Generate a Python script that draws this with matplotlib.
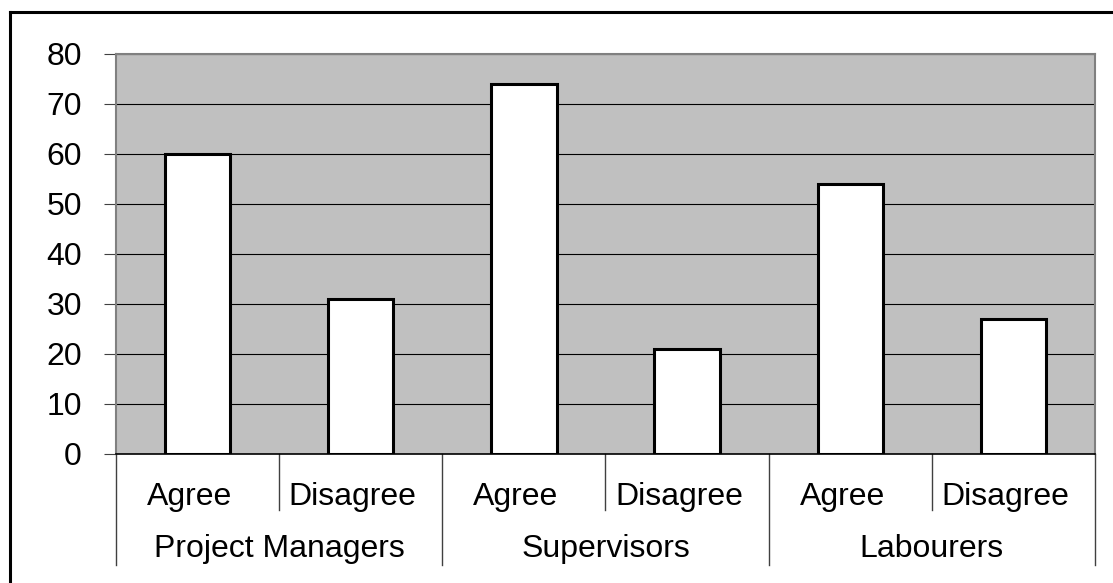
import matplotlib
matplotlib.use("Agg")
import matplotlib.pyplot as plt
from matplotlib.lines import Line2D
from matplotlib.transforms import offset_copy

# data
groups = ["Project Managers", "Supervisors", "Labourers"]
answers = ["Agree", "Disagree"]
values = [60, 31, 74, 21, 54, 27]
y_ticks = [0, 10, 20, 30, 40, 50, 60, 70, 80]

plt.rcParams['font.family'] = ['Liberation Sans', 'DejaVu Sans']
font_size = 23

fig = plt.figure(figsize=(11.13, 5.83), dpi=100)
ax = fig.add_axes([0.1042, 0.2213, 0.8796, 0.6861])
ax.set_facecolor('#c0c0c0')

n = len(values)
xs = list(range(n))
ax.bar(xs, values, width=0.4, color='white', edgecolor='black', linewidth=2.2, zorder=3)

ax.set_xlim(-0.5, n - 0.5)
ax.set_ylim(0, 80)
ax.set_yticks(y_ticks)
ax.set_yticklabels([str(v) for v in y_ticks], fontsize=font_size)
ax.yaxis.grid(True, color='black', linewidth=0.8)
ax.set_axisbelow(True)
ax.tick_params(axis='y', length=8.6, width=0.8, pad=16, color='#404040')
ax.set_xticks([])

for side in ['top', 'right', 'left']:
    ax.spines[side].set_color('#808080')
    ax.spines[side].set_linewidth(1.5)
ax.spines['bottom'].set_color('black')
ax.spines['bottom'].set_linewidth(1.2)

# multi-level category labels below the axis
trans = ax.get_xaxis_transform()
ax_h_px = 0.6861 * 583
def ypx(px):
    # pixels below the x axis -> axes fraction
    return -px / ax_h_px

sub_trans = offset_copy(trans, fig=fig, x=-8, y=0, units='dots')
for i, x in enumerate(xs):
    ax.text(x, ypx(43), answers[i % 2], transform=sub_trans, ha='center', va='center',
            fontsize=font_size)
for g, name in enumerate(groups):
    ax.text(2 * g + 0.5, ypx(95), name, transform=trans, ha='center', va='center',
            fontsize=font_size)

# separators: short between answers, long between groups
for k in range(n + 1):
    bx = k - 0.5
    depth = 111 if k % 2 == 0 else 56
    ax.add_line(Line2D([bx, bx], [0, ypx(depth)], transform=trans, color='#404040',
                       linewidth=1.0, clip_on=False))

# frame of the chart (only top and left visible)
fig.add_artist(Line2D([9.5 / 1113, 1.0], [1 - 11.5 / 583] * 2, transform=fig.transFigure,
                      color='black', linewidth=2.2))
fig.add_artist(Line2D([9.5 / 1113] * 2, [0.0, 1 - 11.5 / 583], transform=fig.transFigure,
                      color='black', linewidth=2.2))

plt.savefig("out.png", dpi=100)
